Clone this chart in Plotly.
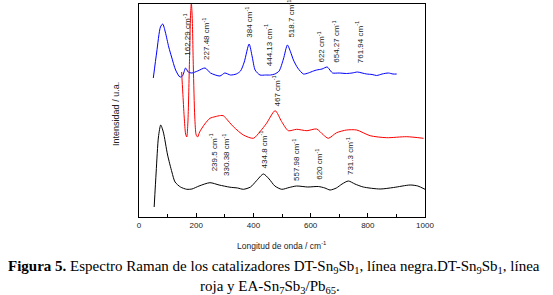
import plotly.graph_objects as go

# Raman shift (cm-1) and intensity (a.u.)
blue_x = [50, 62, 75, 83, 92, 104, 114, 128, 143, 152, 163, 172, 185, 205, 231, 250, 283, 300, 320, 340, 355,
          368, 385, 396, 406, 423, 443, 460, 475, 490, 505, 519, 530, 540, 555, 575, 592, 610, 621, 640, 658,
          670, 677, 700, 726, 745, 764, 780, 796, 815, 831, 850, 872, 888, 901]
blue_y = [139, 165, 190, 193, 185, 170, 160, 147, 140, 141, 149, 145, 144, 146, 149, 144, 141, 144, 142, 143, 146,
          155, 173, 160, 147, 142, 142, 142, 143, 146, 158, 172, 165, 157, 149, 143, 144, 146, 147, 148, 150,
          146, 144, 144, 143.5, 144, 145, 144, 143, 142.5, 141.5, 143, 144, 143, 143]

red_x = [149, 153, 158, 163, 167, 171, 176, 180, 183, 186, 190, 195, 200, 205, 212, 230, 248, 266, 285, 295,
         304, 330, 365, 400, 423, 446, 476, 499, 522, 551, 587, 621, 645, 662, 691, 726, 761, 808, 866, 936, 995]
red_y = [145, 125, 100, 83, 80, 95, 150, 200, 214, 200, 150, 100, 82, 80, 85, 93, 98.7, 100.3, 101.5, 101.3,
         98.7, 90.3, 82, 78.7, 85.3, 93.7, 106.3, 95.3, 86.3, 87.7, 86.3, 88, 82, 78.7, 84.3, 87, 87, 81.3,
         79.3, 80.3, 78.7]

black_x = [53, 60, 68, 76, 85, 100, 115, 126, 145, 167, 185, 210, 248, 280, 318, 345, 365, 390, 410, 435, 455,
           475, 499, 525, 551, 590, 627, 650, 668, 690, 710, 732, 755, 784, 843, 890, 948, 975, 1000]
black_y = [10, 45, 80, 92, 85, 62, 45, 35, 30, 27.7, 28, 31, 34.3, 32, 29.8, 29, 27.7, 30, 36, 43, 38,
           31, 27.7, 29.5, 31, 30, 30.5, 29, 27, 29, 33, 36, 33, 30, 28, 29.5, 32, 31, 27.7]

# peak labels: text, x position, base of the label
blue_labels = ["162.29", "227.48", "384", "444.13", "518.7", "622", "654.27", "761.94"]
blue_label_x = [167, 234, 382, 452, 530, 633, 688, 770]
blue_label_y = [159, 155, 177, 149, 177, 152, 152, 152]
red_labels = ["467"]
red_label_x = [479]
red_label_y = [109]
black_labels = ["239.5", "330.38", "434.8", "557.98", "620", "731.3"]
black_label_x = [260, 304, 435, 549, 627, 738]
black_label_y = [44, 39, 47, 34, 35, 40]

x_ticks = [0, 200, 400, 600, 800, 1000]

fig = go.Figure()
for xs, ys, col in [(blue_x, blue_y, "#0000ff"), (red_x, red_y, "#ff0000"), (black_x, black_y, "#000000")]:
    fig.add_trace(go.Scatter(x=xs, y=ys, mode="lines",
                             line=dict(color=col, width=1, shape="spline", smoothing=0.7),
                             showlegend=False, hoverinfo="skip"))

annos = []
for labs, lx, ly in [(blue_labels, blue_label_x, blue_label_y), (red_labels, red_label_x, red_label_y),
                     (black_labels, black_label_x, black_label_y)]:
    for t, x, y in zip(labs, lx, ly):
        annos.append(dict(x=x, y=y, xref="x", yref="y", text=f"{t} cm<sup>-1</sup>", showarrow=False,
                          textangle=-90, xanchor="center", yanchor="bottom",
                          font=dict(family="Liberation Sans, Arial", size=8, color="#222")))

annos.append(dict(xref="paper", yref="paper", x=0, y=0.484, xshift=-23, text="Intensidad / u.a.",
                  showarrow=False, textangle=-90, xanchor="center", yanchor="middle",
                  font=dict(family="Liberation Sans, Arial", size=9, color="#222")))
annos.append(dict(xref="paper", yref="paper", x=0.5, y=-0.134, text="Longitud de onda / cm<sup>-1</sup>",
                  showarrow=False, xanchor="center", yanchor="middle",
                  font=dict(family="Liberation Sans, Arial", size=8.5, color="#222")))
annos.append(dict(xref="paper", yref="paper", x=0.472, y=-0.234,
                  text="<b>Figura 5.</b> Espectro Raman de los catalizadores DT-Sn<sub>9</sub>Sb<sub>1</sub>, línea negra.DT-Sn<sub>9</sub>Sb<sub>1</sub>, línea",
                  showarrow=False, xanchor="center", yanchor="middle",
                  font=dict(family="Liberation Serif, Times New Roman", size=15, color="#000")))
annos.append(dict(xref="paper", yref="paper", x=0.458, y=-0.327,
                  text="roja y EA-Sn<sub>7</sub>Sb<sub>3</sub>/Pb<sub>65</sub>.",
                  showarrow=False, xanchor="center", yanchor="middle",
                  font=dict(family="Liberation Serif, Times New Roman", size=15, color="#000")))

fig.update_layout(
    width=553, height=295,
    margin=dict(l=139, r=128, t=4, b=78),
    paper_bgcolor="white", plot_bgcolor="white",
    annotations=annos,
    xaxis=dict(range=[0, 1000], tickvals=x_ticks, ticks="inside", ticklen=4, tickwidth=1, tickcolor="black",
               minor=dict(dtick=100, ticks="inside", ticklen=3, tickcolor="black"),
               showline=True, linecolor="black", linewidth=1, mirror=True, showgrid=False, zeroline=False,
               tickfont=dict(family="Liberation Sans, Arial", size=8, color="#222")),
    yaxis=dict(range=[0, 213], showticklabels=False, ticks="", showline=True, linecolor="black",
               linewidth=1, mirror=True, showgrid=False, zeroline=False),
)
fig.write_html("out.html", config={"displayModeBar": False},
               post_script="document.body.style.margin='0';document.body.style.overflow='hidden';")
